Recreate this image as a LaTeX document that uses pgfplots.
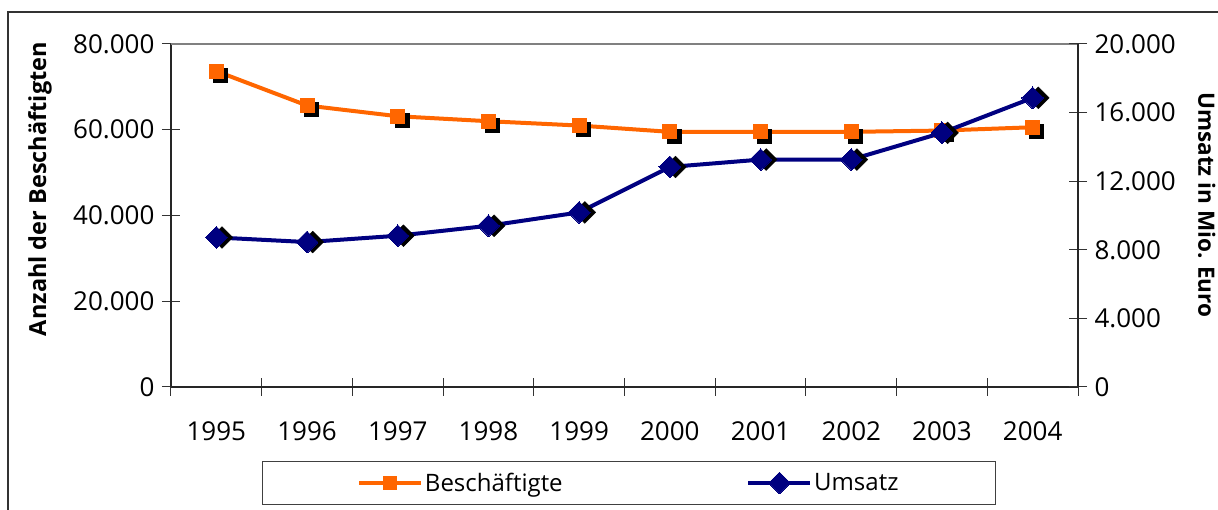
\documentclass[border=0pt]{standalone}
\usepackage{fontspec}
\setmainfont{Open Sans}
\usepackage{pgfplots}
\pgfplotsset{compat=1.18}
\definecolor{orng}{HTML}{FF6600}
\definecolor{navyb}{HTML}{000080}

\pgfplotstableread{
x y
0 73670
1 65650
2 63150
3 61990
4 60980
5 59510
6 59510
7 59510
8 59810
9 60580
}\besch

\pgfplotstableread{
x y
0 8720
1 8450
2 8820
3 9400
4 10180
5 12830
6 13260
7 13260
8 14820
9 16860
}\umsatz

\begin{document}
\begin{tikzpicture}
\path[use as bounding box] (0pt,0pt) rectangle (1218pt,510pt);
\draw[line width=1.5pt, black!80] (8pt,-5pt) -- (8pt,498pt) -- (1225pt,498pt);
\pgfplotsset{
  common/.style={
    at={(171pt,123pt)}, anchor=south west, scale only axis,
    width=907pt, height=343pt,
    xmin=-0.5, xmax=9.5, ymin=0,
    tick align=center, major tick length=18pt, minor tick length=18pt,
    tick style={line width=1pt, black!80},
    tick label style={font=\fontsize{26}{30}\selectfont},
    scaled y ticks=false,
    /pgf/number format/1000 sep={.},
    /pgf/number format/assume math mode=true,
    label style={font=\bfseries\fontsize{23.5}{27}\selectfont},
    clip=false,
  }
}
\begin{axis}[common,
  ymax=80000,
  axis x line*=bottom, axis y line*=left,
  axis line style={line width=1.2pt, black!85},
  xtick={0,...,9},
  xticklabels={1995,1996,1997,1998,1999,2000,2001,2002,2003,2004},
  xticklabel style={yshift=-22pt},
  major x tick style={draw=none},
  minor xtick={-0.5,0.5,1.5,2.5,3.5,4.5,5.5,6.5,7.5,8.5,9.5},
  ytick={0,20000,40000,60000,80000},
  yticklabel style={xshift=-4pt},
  ylabel={Anzahl der Besch\"aftigten},
  ylabel style={at={(axis description cs:-0.1444,0.577)}, anchor=center},
]
\draw[line width=1.5pt, black!50] (rel axis cs:0,1) -- (rel axis cs:1,1);
\addplot[only marks, mark=square*, mark size=7pt, black, mark options={xshift=4pt,yshift=-4pt}, forget plot] table[x=x,y=y] {\besch};
\addplot[orng, line width=4pt, mark=square*, mark size=7pt, mark options={line width=0pt, fill=orng}] table[x=x,y=y] {\besch};
\end{axis}
\begin{axis}[common,
  ymax=20000,
  axis x line=none, axis y line*=right,
  axis line style={line width=1.2pt, black!85},
  ytick={0,4000,8000,12000,16000,20000},
  yticklabel style={xshift=4pt},
  ylabel={Umsatz in Mio. Euro},
  ylabel style={at={(axis description cs:1.142,0.531)}, anchor=center, rotate=180, font=\bfseries\fontsize{22.5}{26}\selectfont},
  legend columns=2,
  legend style={at={(axis description cs:0.1003,-0.2799)}, anchor=west,
    draw=black!75, line width=1pt, inner xsep=95pt, inner ysep=10pt,
    font=\fontsize{24}{28}\selectfont,
    /tikz/every even column/.append style={column sep=182pt}},
  legend image code/.code={\draw[mark repeat=2,mark phase=2,#1] plot coordinates {(0pt,0pt)(31pt,0pt)(62pt,0pt)};},
]
\addlegendimage{orng, line width=3.5pt, mark=square*, mark size=6.5pt, mark options={line width=0pt, fill=orng}}
\addlegendentry{Besch\"aftigte}
\addplot[only marks, mark=square*, mark size=7.7pt, black, mark options={rotate=45, xshift=4pt,yshift=-4pt}, forget plot] table[x=x,y=y] {\umsatz};
\addplot[navyb, line width=4pt, mark=square*, mark size=7.7pt, mark options={rotate=45, line width=0pt, fill=navyb}, legend image post style={line width=3.5pt}] table[x=x,y=y] {\umsatz};
\addlegendentry{Umsatz}
\end{axis}
\end{tikzpicture}
\end{document}
